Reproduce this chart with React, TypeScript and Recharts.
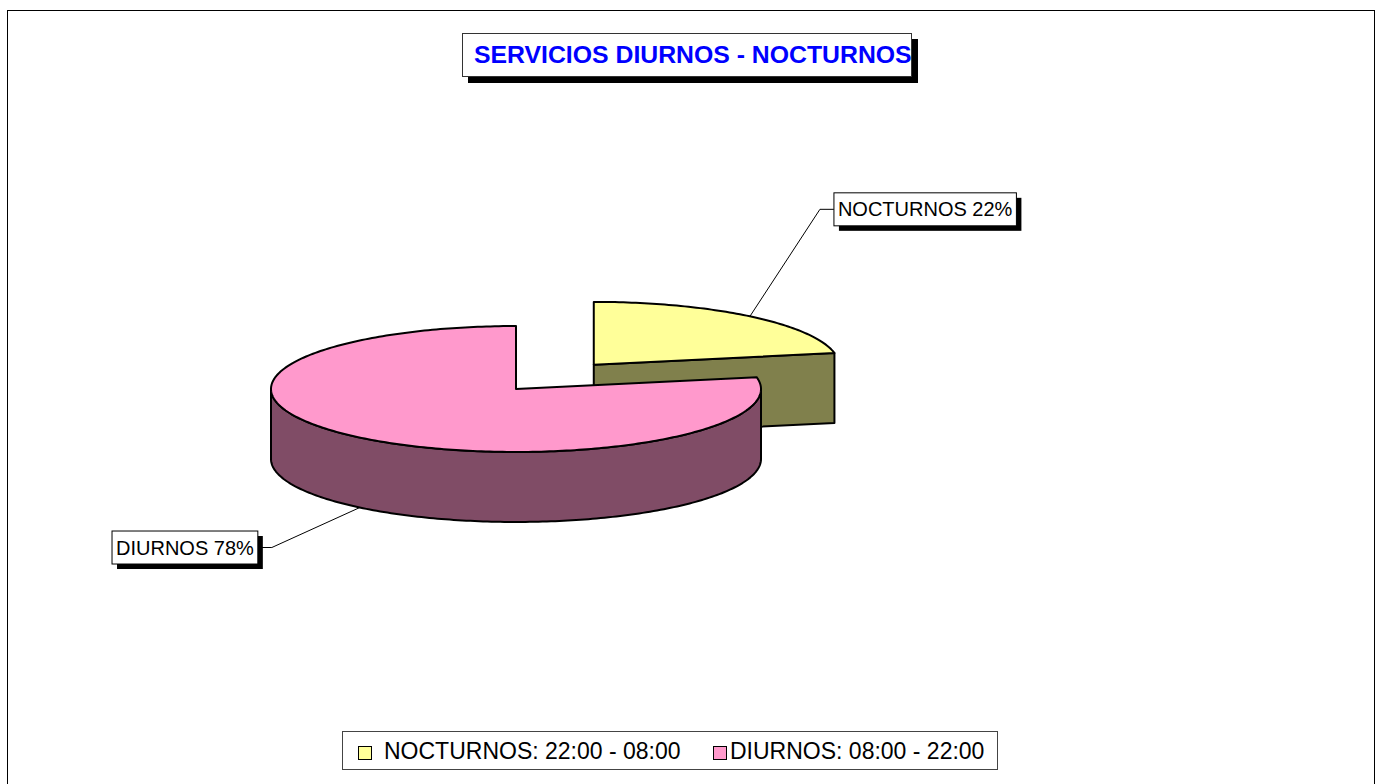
import React from 'react';
import { PieChart, Pie, Cell, Legend } from 'recharts';

// datos del gráfico
const categories = ['NOCTURNOS', 'DIURNOS'];
const values = [22, 78];
const legendLabels = ['NOCTURNOS: 22:00 - 08:00', 'DIURNOS: 08:00 - 22:00'];

// estilo (3D simulado)
const TOP_COLORS = ['#FFFF99', '#FF99CC'];
const SIDE_COLORS = ['#80804C', '#804C66'];
const EXPLODE = [122, 0];
const LABEL_OFFSETS = [
  { dx: 70, dy: -107 },
  { dx: -88, dy: 40 },
];

const TILT = 0.257;
const DEPTH = 70;
const RAD = Math.PI / 180;
const FONT = '"Liberation Sans", Arial, Helvetica, sans-serif';

const data = categories.map((name, i) => ({ name, value: values[i], legend: legendLabels[i] }));

const proj = (cx: number, cy: number, r: number, deg: number, dz = 0): [number, number] => [
  cx + r * Math.cos(deg * RAD),
  cy - r * Math.sin(deg * RAD) * TILT + dz,
];

const arcPoints = (cx: number, cy: number, r: number, from: number, to: number, dz = 0) => {
  const pts: [number, number][] = [];
  const steps = Math.max(2, Math.ceil(Math.abs(to - from)));
  for (let i = 0; i <= steps; i++) {
    pts.push(proj(cx, cy, r, from + ((to - from) * i) / steps, dz));
  }
  return pts;
};

const toPath = (pts: [number, number][]) =>
  pts.map((p, i) => `${i === 0 ? 'M' : 'L'}${p[0].toFixed(2)},${p[1].toFixed(2)}`).join(' ') + ' Z';

let ctx: CanvasRenderingContext2D | null = null;
const measure = (text: string, size: number) => {
  if (!ctx) ctx = document.createElement('canvas').getContext('2d');
  if (!ctx) return text.length * size * 0.6;
  ctx.font = `${size}px ${FONT}`;
  return ctx.measureText(text).width;
};

const indexOfEntry = (props: any) => {
  const name = props.payload?.name ?? props.name;
  const idx = categories.indexOf(name);
  return idx < 0 ? 0 : idx;
};

const Slice3D = (props: any) => {
  const { cx, cy, outerRadius, startAngle, endAngle } = props;
  const idx = indexOfEntry(props);
  const lo = Math.min(startAngle, endAngle);
  const hi = Math.max(startAngle, endAngle);
  const mid = (lo + hi) / 2;
  const [ox, oy] = proj(cx, cy, EXPLODE[idx] || 0, mid);
  const top = TOP_COLORS[idx];
  const side = SIDE_COLORS[idx];

  // lado curvo visible (sin < 0)
  const runs: [number, number][] = [];
  let runStart: number | null = null;
  for (let a = lo; a <= hi + 0.001; a += 0.5) {
    const vis = Math.sin(a * RAD) < -1e-6;
    if (vis && runStart === null) runStart = a;
    if (!vis && runStart !== null) {
      runs.push([runStart, a]);
      runStart = null;
    }
  }
  if (runStart !== null) runs.push([runStart, hi]);

  const sides = runs.map(([a, b], i) => {
    const pts = [...arcPoints(ox, oy, outerRadius, a, b), ...arcPoints(ox, oy, outerRadius, b, a, DEPTH)];
    return <path key={`s${i}`} d={toPath(pts)} fill={side} stroke="#000" strokeWidth={2} strokeLinejoin="round" />;
  });

  // caras radiales visibles
  const faces: React.ReactNode[] = [];
  const radial = (deg: number, key: string) => {
    const [rx, ry] = proj(ox, oy, outerRadius, deg);
    const pts: [number, number][] = [[ox, oy], [rx, ry], [rx, ry + DEPTH], [ox, oy + DEPTH]];
    faces.push(<path key={key} d={toPath(pts)} fill={side} stroke="#000" strokeWidth={2} strokeLinejoin="round" />);
  };
  if (Math.cos(lo * RAD) > 1e-6) radial(lo, 'rlo');
  if (Math.cos(hi * RAD) < -1e-6) radial(hi, 'rhi');

  const topPts: [number, number][] = [[ox, oy], ...arcPoints(ox, oy, outerRadius, lo, hi)];

  return (
    <g>
      {sides}
      {faces}
      <path d={toPath(topPts)} fill={top} stroke="#000" strokeWidth={2} strokeLinejoin="round" />
    </g>
  );
};

const renderLabel = (props: any) => {
  const { cx, cy, midAngle, outerRadius, percent } = props;
  const idx = indexOfEntry(props);
  const name = categories[idx];
  const [ox, oy] = proj(cx, cy, EXPLODE[idx] || 0, midAngle);
  const front = Math.sin(midAngle * RAD) < 0;
  const [ax, ay] = proj(ox, oy, outerRadius, midAngle, front ? DEPTH : 0);
  const off = LABEL_OFFSETS[idx];
  const ex = ax + off.dx;
  const ey = ay + off.dy;
  const right = off.dx > 0;
  const text = `${name} ${Math.round(percent * 100)}%`;
  const bw = measure(text, 20) + 8;
  const bh = 33;
  const bx = right ? ex + 14 : ex - 14 - bw;
  const by = ey - bh / 2;
  const lineEnd = right ? bx : bx + bw;
  return (
    <g key={`lbl-${idx}`}>
      <polyline points={`${ax},${ay} ${ex},${ey} ${lineEnd},${ey}`} fill="none" stroke="#000" strokeWidth={1} />
      <rect x={bx + 5} y={by + 5} width={bw} height={bh} fill="#000" />
      <rect x={bx} y={by} width={bw} height={bh} fill="#fff" stroke="#000" strokeWidth={1} />
      <text x={bx + 4} y={ey} dominantBaseline="central" fontFamily={FONT} fontSize={20} fill="#000">
        {text}
      </text>
    </g>
  );
};

const LEGEND_X = [{ box: 15, text: 41 }, { box: 370, text: 387 }];

const renderLegend = (props: any) => {
  const payload: any[] = props?.payload?.length ? props.payload : data.map((d, i) => ({ value: d.name, color: TOP_COLORS[i] }));
  return (
    <div
      style={{
        position: 'relative',
        width: 656,
        height: 39,
        boxSizing: 'border-box',
        border: '1px solid #444',
        background: '#fff',
        fontFamily: FONT,
        fontSize: 23,
        color: '#000',
      }}
    >
      {payload.map((entry, i) => {
        const idx = categories.indexOf(entry.value);
        const k = idx < 0 ? i : idx;
        return (
          <React.Fragment key={k}>
            <div
              style={{
                position: 'absolute',
                left: LEGEND_X[k].box,
                top: 14,
                width: 14,
                height: 14,
                boxSizing: 'border-box',
                border: '1.5px solid #000',
                background: TOP_COLORS[k],
              }}
            />
            <div style={{ position: 'absolute', left: LEGEND_X[k].text, top: 4, lineHeight: '30px', whiteSpace: 'nowrap' }}>
              {legendLabels[k]}
            </div>
          </React.Fragment>
        );
      })}
    </div>
  );
};

export default function App() {
  return (
    <div style={{ position: 'absolute', left: 0, top: 0, width: 1380, height: 784, overflow: 'hidden', background: '#fff' }}>
      <div
        style={{
          position: 'absolute',
          left: 7,
          top: 10,
          width: 1368,
          height: 800,
          boxSizing: 'border-box',
          border: '1.5px solid #000',
        }}
      />
      <div style={{ position: 'absolute', left: 0, top: 0 }}>
        <PieChart width={1380} height={784} margin={{ top: 0, right: 0, bottom: 0, left: 0 }}>
          <Pie
            data={data}
            dataKey="value"
            nameKey="name"
            cx={516}
            cy={389}
            outerRadius={245}
            startAngle={90}
            endAngle={-270}
            stroke="none"
            shape={Slice3D}
            activeShape={Slice3D}
            inactiveShape={Slice3D}
            label={renderLabel}
            labelLine={false}
            isAnimationActive={false}
          >
            {data.map((d, i) => (
              <Cell key={d.name} fill={TOP_COLORS[i]} />
            ))}
          </Pie>
          <Legend
            verticalAlign="bottom"
            content={renderLegend}
            wrapperStyle={{ left: 342, top: 731, bottom: 'auto', width: 656, height: 39 }}
          />
        </PieChart>
      </div>
      <div
        style={{
          position: 'absolute',
          left: 462,
          top: 33,
          width: 450,
          height: 44,
          boxSizing: 'border-box',
          border: '1px solid #333',
          background: '#fff',
          boxShadow: '6px 6px 0 #000',
          overflow: 'hidden',
          whiteSpace: 'nowrap',
          fontFamily: FONT,
          fontWeight: 'bold',
          fontSize: 24.8,
          lineHeight: '42px',
          color: '#0000FF',
          paddingLeft: 11,
        }}
      >
        SERVICIOS DIURNOS - NOCTURNOS
      </div>
    </div>
  );
}
